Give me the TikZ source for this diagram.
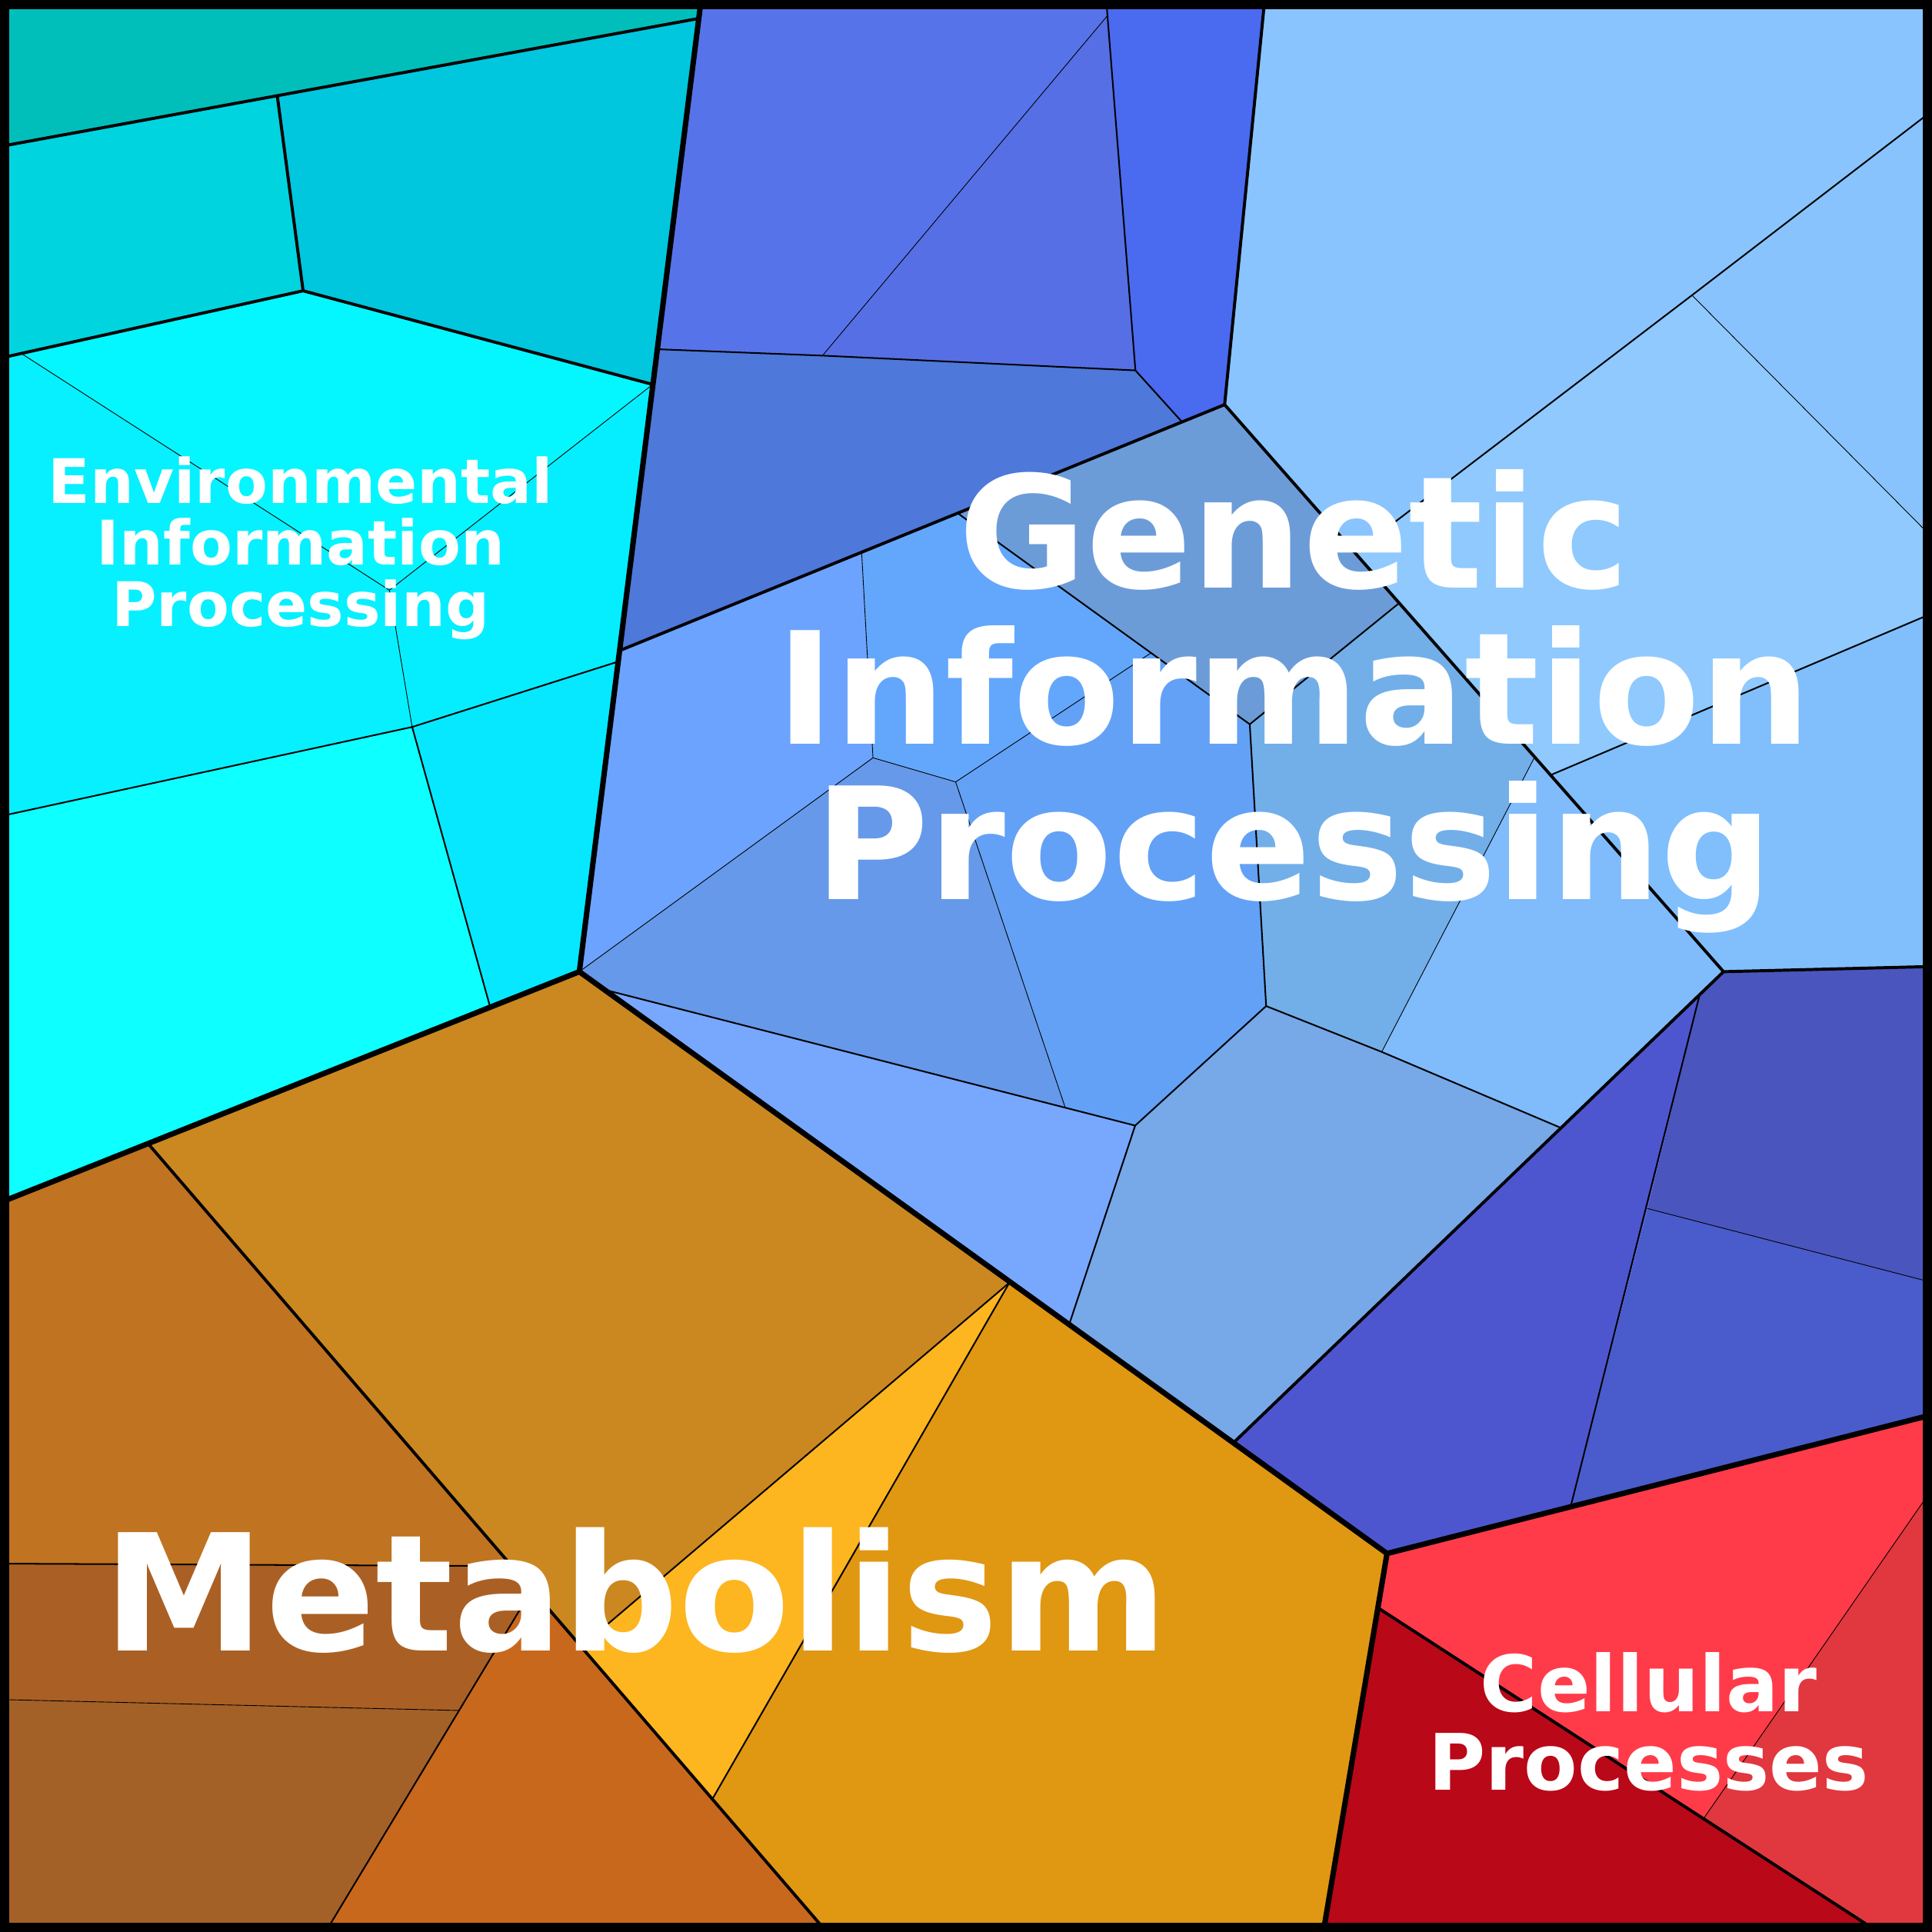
\documentclass[tikz,border=0pt]{standalone}
\usepackage{fontspec}
\usepackage{tikz}
\usetikzlibrary{positioning}
\newfontfamily\labelfont{DejaVu Sans}

\definecolor{envA}{HTML}{00BFBB}
\definecolor{envB}{HTML}{00D4DF}
\definecolor{envC}{HTML}{00C7DD}
\definecolor{envD}{HTML}{04F6FF}
\definecolor{envE}{HTML}{06F0FF}
\definecolor{envF}{HTML}{05EEFF}
\definecolor{envG}{HTML}{0DFFFF}
\definecolor{envH}{HTML}{05E8FF}
\definecolor{genA}{HTML}{5773EA}
\definecolor{genB}{HTML}{566FE4}
\definecolor{genC}{HTML}{4A6AEF}
\definecolor{genD}{HTML}{4E78D9}
\definecolor{genE}{HTML}{8AC4FE}
\definecolor{genF}{HTML}{88C3FD}
\definecolor{genG}{HTML}{8FC9FE}
\definecolor{genH}{HTML}{80BFFC}
\definecolor{genI}{HTML}{6CA3FE}
\definecolor{genJ}{HTML}{63A7FC}
\definecolor{genK}{HTML}{6C9CD8}
\definecolor{genL}{HTML}{62A1F6}
\definecolor{genM}{HTML}{6699E9}
\definecolor{genN}{HTML}{78A8FE}
\definecolor{genO}{HTML}{72AFE9}
\definecolor{genP}{HTML}{80BBFB}
\definecolor{genQ}{HTML}{77A8E7}
\definecolor{genR}{HTML}{4A55BE}
\definecolor{genS}{HTML}{4E56CF}
\definecolor{genT}{HTML}{4A5CCB}
\definecolor{celA}{HTML}{FF3B4A}
\definecolor{celB}{HTML}{B90818}
\definecolor{celC}{HTML}{E1373F}
\definecolor{metA}{HTML}{CB8820}
\definecolor{metB}{HTML}{FDB520}
\definecolor{metC}{HTML}{E09712}
\definecolor{metD}{HTML}{C07320}
\definecolor{metE}{HTML}{AA6024}
\definecolor{metF}{HTML}{C8681D}
\definecolor{metG}{HTML}{A36128}

\tikzset{
    lvlone/.style={line width=1.25pt, line join=round},
    lvltwo/.style={line width=0.7pt, line join=round},
    lvlthree/.style={line width=0.36pt, line join=round},
    lvlfour/.style={line width=0.16pt, line join=round},
    lbl/.style={text=white, inner sep=0pt, align=center}
}

\begin{document}
\begin{tikzpicture}[x=0.1mm, y=-0.1mm]
                                \useasboundingbox (0,0) rectangle (1568,1568);
                                \begin{scope}
                                    \fill[envA] (0,0) -- (569,0) -- (567,15) -- (0,118.9) -- cycle;
                                    \fill[envB] (0,118.9) -- (225,77.5) -- (246,236) -- (0,290.7) -- cycle;
                                    \fill[envC] (225,77.5) -- (567,15) -- (529.7,312) -- (246,236) -- cycle;
                                    \fill[envD] (17.5,287) -- (246,236) -- (529.7,312) -- (316,479) -- cycle;
                                    \fill[envE] (0,290.7) -- (17.5,287) -- (316,479) -- (334.5,590) -- (0,662.5) -- cycle;
                                    \fill[envF] (316,479) -- (529.7,312) -- (501.5,537) -- (334.5,590) -- cycle;
                                    \fill[envG] (0,662.5) -- (334.5,590) -- (398,818) -- (120.5,928.5) -- (0,976) -- cycle;
                                    \fill[envH] (334.5,590) -- (501.5,537) -- (470.2,788.6) -- (398,818) -- cycle;
                                \end{scope}
                                \begin{scope}
                                    \fill[genA] (569,0) -- (897.8,0) -- (898.8,12.7) -- (667.5,288.6) -- (533.3,283.4) -- cycle;
                                    \fill[genB] (898.8,12.7) -- (921.5,300.6) -- (667.5,288.6) -- cycle;
                                    \fill[genC] (897.8,0) -- (1026.4,0) -- (993.9,328.4) -- (959.3,342.4) -- (921.5,300.6) -- (898.8,12.7) -- cycle;
                                    \fill[genD] (533.3,283.4) -- (667.5,288.6) -- (921.5,300.6) -- (959.3,342.4) -- (502.7,528.1) -- cycle;
                                    \fill[genE] (1026.4,0) -- (1568,0) -- (1568,90) -- (1373.2,239.6) -- (1099.5,448.5) -- (993.9,328.4) -- cycle;
                                    \fill[genF] (1373.2,239.6) -- (1568,90) -- (1568,436) -- cycle;
                                    \fill[genG] (1099.5,448.5) -- (1373.2,239.6) -- (1568,436) -- (1568,497.8) -- (1258.5,629) -- cycle;
                                    \fill[genH] (1258.5,629) -- (1568,497.8) -- (1568,784.4) -- (1398.8,788.6) -- cycle;
                                    \fill[genI] (502.7,528.1) -- (699.3,448.2) -- (708.5,615) -- (470.2,788.6) -- cycle;
                                    \fill[genJ] (699.3,448.2) -- (777,416.3) -- (934,530) -- (775.6,634.6) -- (708.5,615) -- cycle;
                                    \fill[genK] (777,416.3) -- (993.9,328.4) -- (1135.5,489.5) -- (1014.3,587.8) -- cycle;
                                    \fill[genL] (934,530) -- (1014.3,587.8) -- (1027.6,816.5) -- (921.3,913.5) -- (864.4,898.5) -- (775.6,634.6) -- cycle;
                                    \fill[genM] (470.2,788.6) -- (708.5,615) -- (775.6,634.6) -- (864.4,898.5) -- (490.5,803.2) -- cycle;
                                    \fill[genN] (490.5,803.2) -- (864.4,898.5) -- (921.3,913.5) -- (867.7,1075) -- cycle;
                                    \fill[genO] (1014.3,587.8) -- (1135.5,489.5) -- (1245.5,614.4) -- (1121.4,853.7) -- (1027.6,816.5) -- cycle;
                                    \fill[genP] (1245.5,614.4) -- (1258.5,629) -- (1398.8,788.6) -- (1266,915) -- (1121.4,853.7) -- cycle;
                                    \fill[genQ] (921.3,913.5) -- (1027.6,816.5) -- (1121.4,853.7) -- (1266,915) -- (1001,1171) -- (867.7,1075) -- cycle;
                                    \fill[genR] (1398.8,788.6) -- (1568,784.4) -- (1568,1040.8) -- (1337,980.8) -- (1379.5,807) -- cycle;
                                    \fill[genS] (1001,1171) -- (1379.5,807) -- (1337,980.8) -- (1274.7,1222.9) -- (1125.7,1260.8) -- cycle;
                                    \fill[genT] (1337,980.8) -- (1568,1040.8) -- (1568,1148.2) -- (1274.7,1222.9) -- cycle;
                                \end{scope}
                                \begin{scope}
                                    \fill[celA] (1125.7,1260.8) -- (1568,1148.2) -- (1568,1208.5) -- (1383,1475.4) -- (1118.5,1305) -- cycle;
                                    \fill[celB] (1118.5,1305) -- (1383,1475.4) -- (1524.5,1568) -- (1074,1568) -- cycle;
                                    \fill[celC] (1568,1208.5) -- (1568,1568) -- (1524.5,1568) -- (1383,1475.4) -- cycle;
                                \end{scope}
                                \begin{scope}
                                    \fill[metA] (120.5,928.5) -- (470.2,788.6) -- (819.2,1041) -- (471.8,1336.3) -- cycle;
                                    \fill[metB] (471.8,1336.3) -- (819.2,1041) -- (578.2,1460) -- cycle;
                                    \fill[metC] (819.2,1041) -- (1125.7,1260.8) -- (1074,1568) -- (671,1568) -- (578.2,1460) -- cycle;
                                    \fill[metD] (0,976) -- (120.5,928.5) -- (415.5,1271) -- (0,1269) -- cycle;
                                    \fill[metE] (0,1269) -- (415.5,1271) -- (431.8,1290) -- (372.6,1388.2) -- (0,1379.3) -- cycle;
                                    \fill[metF] (372.6,1388.2) -- (431.8,1290) -- (671,1568) -- (264.2,1568) -- cycle;
                                    \fill[metG] (0,1379.3) -- (372.6,1388.2) -- (264.2,1568) -- (0,1568) -- cycle;
                                \end{scope}
                                \draw[lvlfour] (17.5,287) -- (316,479) -- (529.7,312);
                                \draw[lvlfour] (316,479) -- (334.5,590);
                                \draw[lvlfour] (898.8,12.7) -- (667.5,288.6);
                                \draw[lvlfour] (1373.2,239.6) -- (1568,436);
                                \draw[lvlfour] (699.3,448.2) -- (708.5,615) -- (775.6,634.6) -- (934,530);
                                \draw[lvlfour] (775.6,634.6) -- (864.4,898.5);
                                \draw[lvlfour] (708.5,615) -- (470.2,788.6);
                                \draw[lvlfour] (1245.5,614.4) -- (1121.4,853.7);
                                \draw[lvlfour] (1337,980.8) -- (1568,1040.8);
                                \draw[lvlfour] (1568,1208.5) -- (1383,1475.4);
                                \draw[lvlfour] (0,1379.3) -- (372.6,1388.2);
                                \draw[lvlthree] (0,662.5) -- (334.5,590) -- (501.5,537);
                                \draw[lvlthree] (334.5,590) -- (398,818);
                                \draw[lvlthree] (533.3,283.4) -- (667.5,288.6) -- (921.5,300.6) -- (959.3,342.4);
                                \draw[lvlthree] (897.8,0) -- (898.8,12.7) -- (921.5,300.6);
                                \draw[lvlthree] (1568,90) -- (1373.2,239.6) -- (1099.5,448.5);
                                \draw[lvlthree] (1568,497.8) -- (1258.5,629);
                                \draw[lvlthree] (777,416.3) -- (1014.3,587.8) -- (1135.5,489.5);
                                \draw[lvlthree] (1014.3,587.8) -- (1027.6,816.5) -- (921.3,913.5) -- (490.5,803.2);
                                \draw[lvlthree] (921.3,913.5) -- (867.7,1075);
                                \draw[lvlthree] (1027.6,816.5) -- (1121.4,853.7) -- (1266,915);
                                \draw[lvlthree] (1379.5,807) -- (1274.7,1222.9);
                                \draw[lvlthree] (0,1269) -- (415.5,1271);
                                \draw[lvlthree] (264.2,1568) -- (431.8,1290);
                                \draw[lvlthree] (819.2,1041) -- (471.8,1336.3);
                                \draw[lvlthree] (819.2,1041) -- (578.2,1460);
                                \draw[lvltwo] (0,118.9) -- (567,15);
                                \draw[lvltwo] (225,77.5) -- (246,236);
                                \draw[lvltwo] (0,290.7) -- (246,236) -- (529.7,312);
                                \draw[lvltwo] (1026.4,0) -- (993.9,328.4) -- (502.7,528.1);
                                \draw[lvltwo] (993.9,328.4) -- (1398.8,788.6) -- (1568,784.4);
                                \draw[lvltwo] (1398.8,788.6) -- (1001,1171);
                                \draw[lvltwo] (120.5,928.5) -- (671,1568);
                                \draw[lvltwo] (1118.5,1305) -- (1524.5,1568);
                                \draw[lvlone] (569,0) -- (470.2,788.6) -- (0,976);
                                \draw[lvlone] (470.2,788.6) -- (1125.7,1260.8) -- (1568,1148.2);
                                \draw[lvlone] (1125.7,1260.8) -- (1074,1568);
                                \draw[line width=0.73mm] (3.65,3.65) rectangle (1564.35,1564.35);
                                \node[lbl, anchor=base, font=\labelfont\bfseries\fontsize{14.2}{14.2}\selectfont] (envlabel) at (244,508.5) {Environmental\\Information\\Processing};
                                \node[lbl, anchor=base, font=\labelfont\bfseries\fontsize{36}{36}\selectfont] (genlabel) at (1050,730.2) {Genetic\\Information\\Processing};
                                \node[lbl, anchor=base, font=\labelfont\bfseries\fontsize{37.5}{37.5}\selectfont] (metlabel) at (516,1340) {Metabolism};
                                \node[lbl, anchor=base, font=\labelfont\bfseries\fontsize{18}{18}\selectfont] (cellabel) at (1338,1452.6) {Cellular\\Processes};
                            \end{tikzpicture}
\end{document}
